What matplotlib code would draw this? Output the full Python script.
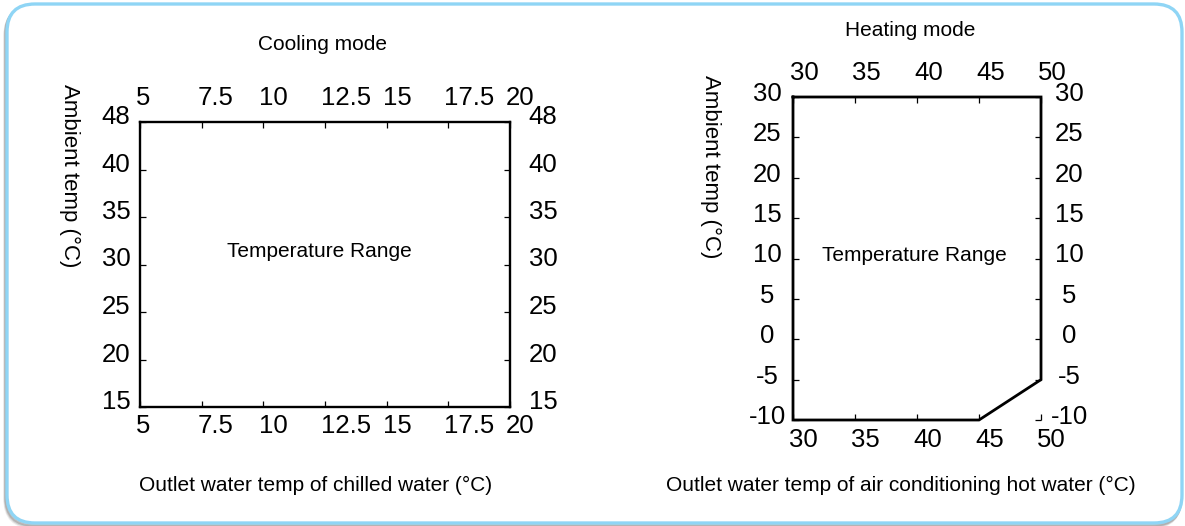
import numpy as np
import matplotlib
matplotlib.use("Agg")
import matplotlib.pyplot as plt
from matplotlib.patches import FancyBboxPatch
from matplotlib.transforms import IdentityTransform, ScaledTranslation

plt.rcParams['font.family'] = ['Liberation Sans', 'DejaVu Sans']

# cooling mode: outlet water vs ambient
cool_xticks = [5, 7.5, 10, 12.5, 15, 17.5, 20]
cool_yticks = [15, 20, 25, 30, 35, 40, 48]
cool_xlim = (5, 20)
cool_ylim = (15, 48)

# heating mode envelope
heat_xticks = [30, 35, 40, 45, 50]
heat_yticks = [-10, -5, 0, 5, 10, 15, 20, 25, 30]
heat_x = [30, 50, 50, 45, 30, 30]
heat_y = [30, 30, -5, -10, -10, 30]

W, H = 1185, 526
fig = plt.figure(figsize=(W / 100, H / 100), dpi=100)

# rounded frame with a faint shadow, kept under the axes
for off, a in [(4, 0.10), (3, 0.18), (2, 0.25)]:
    fig.patches.append(FancyBboxPatch((7 - off / 2, 3 - off), 1175, 519,
                                      boxstyle="round,pad=0,rounding_size=28",
                                      transform=IdentityTransform(), fc='none',
                                      ec='#555555', lw=2.5, alpha=a, zorder=-3))
fig.patches.append(FancyBboxPatch((7, 3), 1175, 519,
                                  boxstyle="round,pad=0,rounding_size=28",
                                  transform=IdentityTransform(), fc='white',
                                  ec='#8fd5f5', lw=2.4, zorder=-2))

FS = 15      # titles / captions
YS = 16      # rotated axis captions
TS = 18.5    # tick numbers


def px(x, y):
    return x / W, 1 - y / H


def nudge(labels, dx, dy, ha='center'):
    off = ScaledTranslation(dx / 100, -dy / 100, fig.dpi_scale_trans)
    for lab in labels:
        lab.set_transform(lab.get_transform() + off)
        lab.set_ha(ha)
        lab.set_va('center')


def setup(ax, xticks, yticks):
    ax.set_facecolor('none')
    ax.set_xticks(xticks)
    ax.set_yticks(yticks)
    ax.set_xticklabels([f"{v:g}" for v in xticks])
    ax.set_yticklabels([f"{v:g}" for v in yticks])
    ax.tick_params(which='both', direction='in', length=4, width=0.9,
                   top=True, right=True, labeltop=True, labelright=True,
                   labelsize=TS, pad=0)


# ---- cooling ----
def fwd(v):
    v = np.asarray(v, dtype=float)
    return np.where(v <= 40, v, 40 + (v - 40) * 5 / 8)


def inv(u):
    u = np.asarray(u, dtype=float)
    return np.where(u <= 40, u, 40 + (u - 40) * 8 / 5)


l, t = px(140, 122)
r, b = px(510, 407)
ax1 = fig.add_axes([l, b, r - l, t - b])
ax1.set_yscale('function', functions=(fwd, inv))
ax1.set_xlim(*cool_xlim)
ax1.set_ylim(*cool_ylim)
setup(ax1, cool_xticks, cool_yticks)
for s in ax1.spines.values():
    s.set_linewidth(1.7)
xt = ax1.xaxis.get_major_ticks()
yt = ax1.yaxis.get_major_ticks()
nudge([k.label1 for k in xt], -4, 19, ha='left')
nudge([k.label2 for k in xt], -4, -24, ha='left')
nudge([k.label1 for k in yt], -24, -5)
nudge([k.label2 for k in yt], 33, -5)
ax1.text(0.485, 0.545, "Temperature Range", transform=ax1.transAxes,
         ha='center', va='center', fontsize=FS)

fig.text(*px(322, 44), "Cooling mode", ha='center', va='center', fontsize=FS)
fig.text(*px(70, 176), "Ambient temp (°C)", rotation=270,
         ha='center', va='center', fontsize=YS)
fig.text(*px(316, 485), "Outlet water temp of chilled water (°C)",
         ha='center', va='center', fontsize=FS)

# ---- heating ----
l, t = px(793, 97)
r, b = px(1041, 420)
ax2 = fig.add_axes([l, b, r - l, t - b])
ax2.plot(heat_x, heat_y, color='black', lw=2.0, clip_on=False,
         solid_joinstyle='miter')
ax2.set_xlim(30, 50)
ax2.set_ylim(-10, 30)
setup(ax2, heat_xticks, heat_yticks)
for s in ax2.spines.values():
    s.set_visible(False)
xt = ax2.xaxis.get_major_ticks()
yt = ax2.yaxis.get_major_ticks()
nudge([k.label1 for k in xt], -4, 20, ha='left')
nudge([k.label2 for k in xt], -3, -24, ha='left')
nudge([k.label1 for k in yt], -26, -3)
nudge([k.label2 for k in yt], 28, -3)
ax2.text(0.49, 0.51, "Temperature Range", transform=ax2.transAxes,
         ha='center', va='center', fontsize=FS)

fig.text(*px(910, 30), "Heating mode", ha='center', va='center', fontsize=FS)
fig.text(*px(711, 167), "Ambient temp (°C)", rotation=270,
         ha='center', va='center', fontsize=YS)
fig.text(*px(901, 485), "Outlet water temp of air conditioning hot water (°C)",
         ha='center', va='center', fontsize=FS)

fig.savefig("out.png", dpi=100)
